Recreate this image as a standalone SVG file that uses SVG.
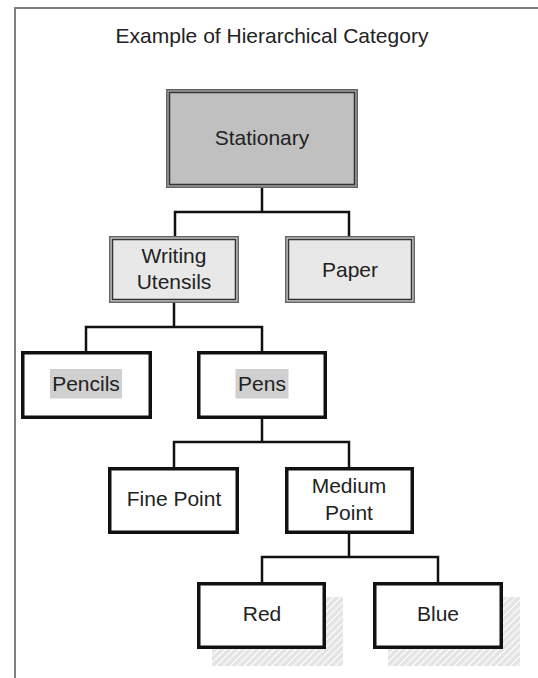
<svg xmlns="http://www.w3.org/2000/svg" width="538" height="678" viewBox="0 0 538 678">
<defs>
<pattern id="hatch" patternUnits="userSpaceOnUse" width="7" height="7">
<rect width="7" height="7" fill="#e4e4e4"/>
<path d="M0,7 L7,0 M-1,1 L1,-1 M6,8 L8,6" stroke="#ffffff" stroke-width="1.2"/>
</pattern>
</defs>
<style>
text{font-family:"Liberation Sans",Arial,sans-serif;font-size:21px;fill:#222;text-anchor:middle}
.conn{fill:none;stroke:#111;stroke-width:2.5}
.dbl-out{stroke:#666;stroke-width:1.5}
.dbl-in{stroke:#333;stroke-width:1.5}
.thick{fill:#fff;stroke:#111;stroke-width:3.5}
.hl{fill:#d0d0d0}
.shadow{fill:url(#hatch)}
</style>
<rect x="0" y="0" width="538" height="678" fill="#fff"/>
<rect x="15" y="8" width="600" height="700" fill="none" stroke="#808080" stroke-width="2"/>
<text x="272" y="43">Example of Hierarchical Category</text>
<g id="connectors">
<path class="conn" d="M262,188 V212 M175,237 V212 H349 V237"/>
<path class="conn" d="M174,303 V327 M86,351 V327 H262 V351"/>
<path class="conn" d="M262,419 V442 M174,467 V442 H349 V467"/>
<path class="conn" d="M349,534 V557 M262,582 V557 H438 V582"/>
</g>
<g id="stationary">
<rect class="dbl-out" x="166.75" y="89.75" width="190.5" height="97.5" fill="#a6a6a6"/>
<rect class="dbl-in" x="169.5" y="92.5" width="185" height="92" fill="#c0c0c0"/>
<text x="262" y="145">Stationary</text>
</g>
<g id="writing-utensils">
<rect class="dbl-out" x="109.75" y="236.75" width="128.5" height="65.5" fill="#cfcfcf"/>
<rect class="dbl-in" x="112.5" y="239.5" width="123" height="60" fill="#e8e8e8"/>
<text x="174" y="263">Writing</text>
<text x="174" y="289">Utensils</text>
</g>
<g id="paper">
<rect class="dbl-out" x="285.75" y="236.75" width="128.5" height="65.5" fill="#cfcfcf"/>
<rect class="dbl-in" x="288.5" y="239.5" width="123" height="60" fill="#e8e8e8"/>
<text x="350" y="277">Paper</text>
</g>
<g id="pencils">
<rect class="thick" x="22.75" y="352.75" width="127.5" height="64.5"/>
<rect class="hl" x="50" y="369" width="72" height="29.5"/>
<text x="86" y="391">Pencils</text>
</g>
<g id="pens">
<rect class="thick" x="198.75" y="352.75" width="126.5" height="64.5"/>
<rect class="hl" x="235.5" y="369" width="53" height="29.5"/>
<text x="262" y="391">Pens</text>
</g>
<g id="fine-point">
<rect class="thick" x="109.75" y="468.75" width="127.5" height="63.5"/>
<text x="174" y="506">Fine Point</text>
</g>
<g id="medium-point">
<rect class="thick" x="286.75" y="468.75" width="125.5" height="63.5"/>
<text x="349" y="493">Medium</text>
<text x="349" y="520">Point</text>
</g>
<g id="red">
<rect class="shadow" x="212" y="597" width="131" height="69"/>
<rect class="thick" x="198.75" y="583.75" width="125.5" height="63.5"/>
<text x="262" y="621">Red</text>
</g>
<g id="blue">
<rect class="shadow" x="388" y="597" width="132" height="69"/>
<rect class="thick" x="374.75" y="583.75" width="126.5" height="63.5"/>
<text x="438" y="621">Blue</text>
</g>
</svg>
